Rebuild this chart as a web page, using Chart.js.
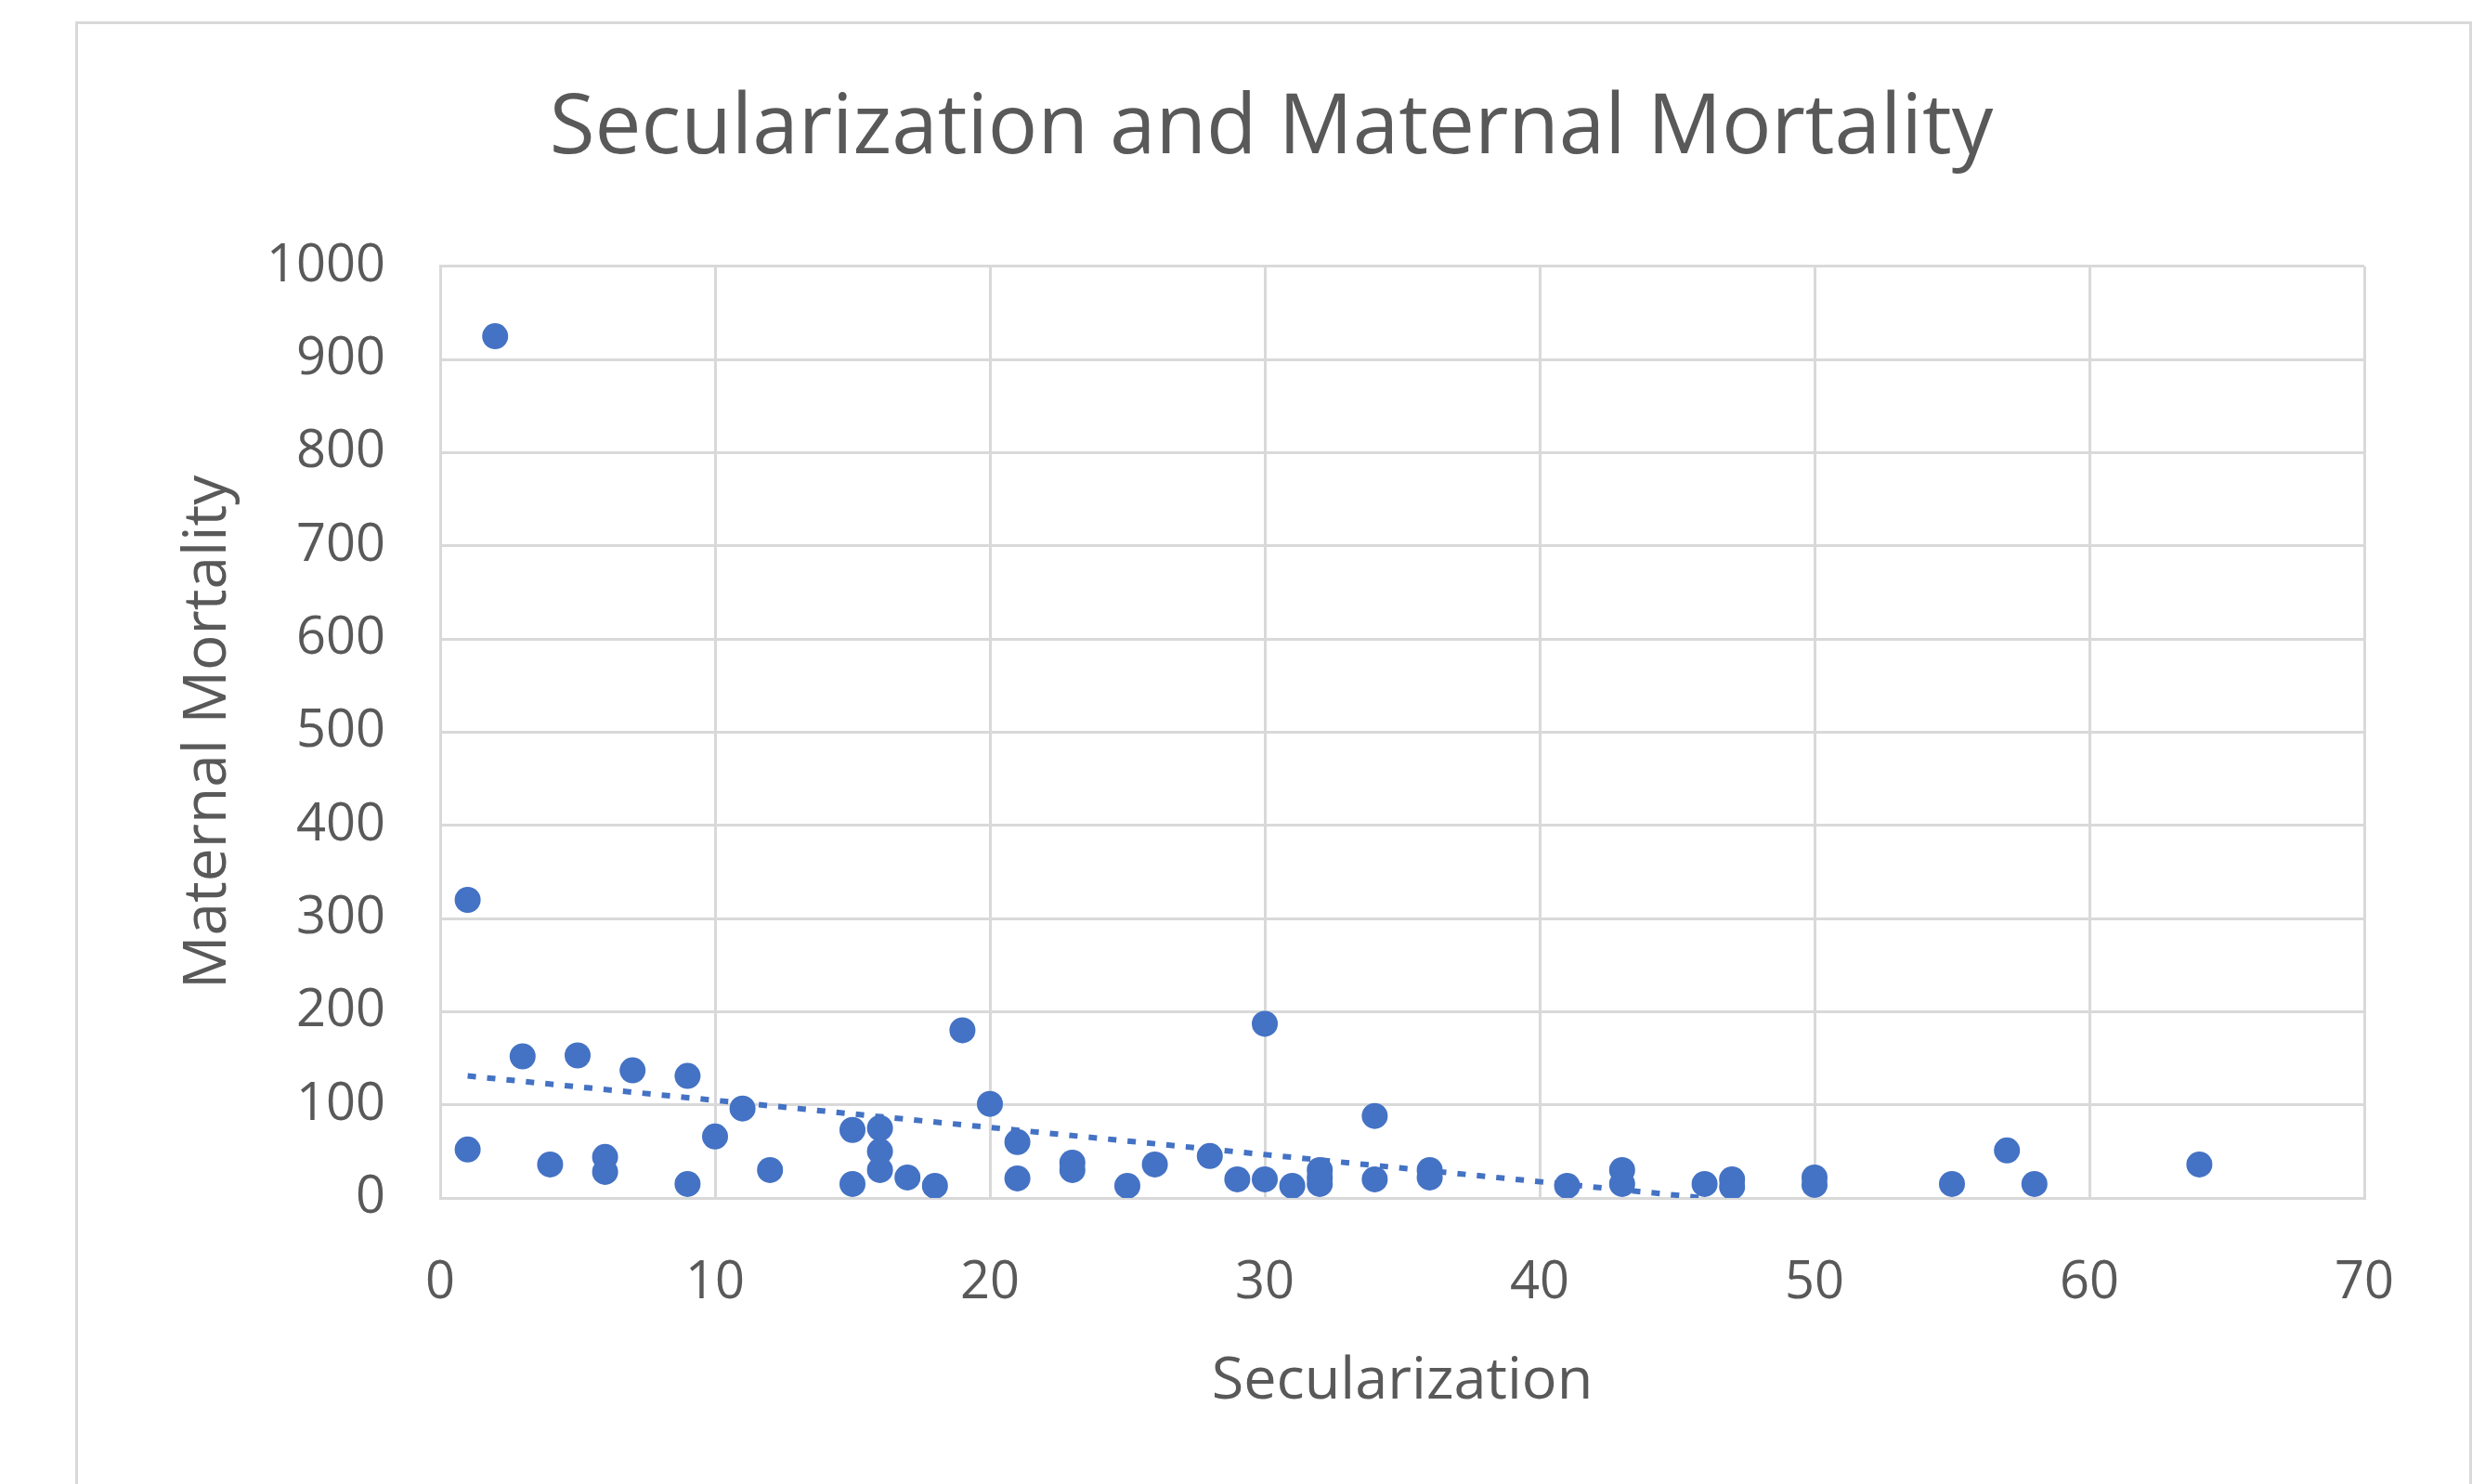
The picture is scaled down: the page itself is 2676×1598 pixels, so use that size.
<!DOCTYPE html>
<html>
<head>
<meta charset="utf-8">
<title>Secularization and Maternal Mortality</title>
<script src="https://cdn.jsdelivr.net/npm/chart.js@4"></script>
<style>
  html, body { margin: 0; padding: 0; background: #fff; overflow: hidden; }
  #frame { position: absolute; left: 81px; top: 23px; width: 2575px; height: 1700px; border: 3px solid #d9d9d9; border-bottom: none; }
  #wrap { position: absolute; left: 0; top: 0; width: 2676px; height: 1598px; }
</style>
</head>
<body>
<div id="frame"></div>
<div id="wrap"><canvas id="scatter" width="2676" height="1598"></canvas></div>
<script>
// values
const secularization = [1, 1, 2, 3, 4, 5, 6, 6, 7, 9, 9, 10, 11, 12, 15, 15, 16, 16, 16, 17,
                        18, 19, 20, 21, 21, 23, 23, 25, 26, 28, 29, 30, 30, 31, 32, 32, 32, 34, 34, 36,
                        36, 41, 43, 43, 46, 47, 47, 50, 50, 55, 57, 58, 64];
const mortality = [320, 52, 925, 152, 36, 153, 44, 28, 137, 131, 15, 66, 96, 30, 73, 15, 75, 50, 30, 22,
                   13, 180, 101, 60, 21, 38, 30, 13, 36, 45, 20, 20, 187, 13, 30, 15, 22, 88, 20, 30,
                   22, 13, 30, 15, 15, 20, 12, 22, 14, 15, 51, 15, 36];
// dotted linear trendline, ends
const trendX = [1, 46];
const trendY = [131, 0];

const xTicks = [0, 70, 10];
const yTicks = [0, 1000, 100];

const grey = '#595959';
const gridGrey = '#d9d9d9';
const blue = '#4472C4';
const fam = "'Open Sans', 'Noto Sans', sans-serif";

const points = secularization.map((x, i) => ({ x: x, y: mortality[i] }));
const trend = trendX.map((x, i) => ({ x: x, y: trendY[i] }));

new Chart(document.getElementById('scatter'), {
    type: 'scatter',
    data: {
        datasets: [
            {
                label: 'Maternal Mortality',
                data: points,
                backgroundColor: blue,
                borderWidth: 0,
                pointRadius: 14,
                order: 1
            },
            {
                label: 'Linear (Maternal Mortality)',
                data: trend,
                showLine: true,
                borderColor: blue,
                borderWidth: 6,
                borderDash: [9, 12],
                pointRadius: 0,
                order: 2
            }
        ]
    },
    options: {
        responsive: false,
        animation: false,
        layout: { padding: { left: 192, right: 130, top: 0, bottom: 0 } },
        plugins: {
            legend: { display: false },
            tooltip: { enabled: false },
            title: {
                display: true,
                text: 'Secularization and Maternal Mortality',
                color: grey,
                font: { family: fam, size: 89, weight: 'normal' },
                padding: { top: 86, bottom: 94 }
            }
        },
        scales: {
            x: {
                type: 'linear',
                min: xTicks[0],
                max: xTicks[1],
                ticks: { stepSize: xTicks[2], padding: 58, color: grey, font: { family: fam, size: 56 },
                         callback: v => String(v) },
                grid: { color: gridGrey, lineWidth: 3, drawTicks: false },
                border: { color: gridGrey, width: 3 },
                title: {
                    display: true,
                    text: 'Secularization',
                    color: grey,
                    font: { family: fam, size: 63 },
                    padding: { top: 0, bottom: 72 }
                },
                afterFit: s => { s.height = 308; }
            },
            y: {
                min: yTicks[0],
                max: yTicks[1],
                ticks: { stepSize: yTicks[2], padding: 59, color: grey, font: { family: fam, size: 56 },
                         callback: v => String(v) },
                grid: { color: gridGrey, lineWidth: 3, drawTicks: false },
                border: { color: gridGrey, width: 3 },
                title: {
                    display: true,
                    text: 'Maternal Mortality',
                    color: grey,
                    font: { family: fam, size: 64 },
                    padding: { top: -6, bottom: 0 }
                },
                afterFit: s => { s.width = 282; }
            }
        }
    }
});
</script>
</body>
</html>
